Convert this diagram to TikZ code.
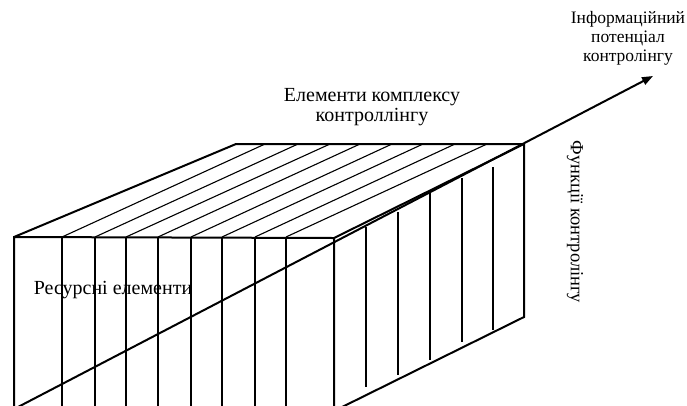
\documentclass[tikz,border=0pt]{standalone}
\usepackage{fontspec}
\setmainfont{Liberation Serif}
\usetikzlibrary{arrows.meta}

\begin{document}
\begin{tikzpicture}[x=1pt, y=-1pt,
  edge/.style={line width=2pt, line join=miter},
  hatch/.style={line width=1.1pt},
  axis/.style={line width=2pt, -{Triangle[length=11pt, width=8pt]}},
  lbl/.style={font=\fontsize{20}{20}\selectfont, align=center, inner sep=0pt}
]
  \useasboundingbox (0,0) rectangle (687,405);
  \clip (0,0) rectangle (687,405);
  \coordinate (ftl) at (14,237);
  \coordinate (ftr) at (334,238);
  \coordinate (fbl) at (14,411);
  \coordinate (fbr) at (334,411);
  \coordinate (btl) at (236,144);
  \coordinate (btr) at (524,144);
  \coordinate (bbr) at (524,317);
  \coordinate (o) at (18,407);
  \coordinate (tip) at (653,76);
  \foreach \a/\b in {62/265, 95/298, 126/330, 158/360, 191/392, 222/423, 255/455, 286/487} {
    \draw[hatch] (\a,237) -- (\a,411);
    \draw[hatch] (\a,237) -- (\b,144);
  }
  \foreach \x/\t/\b in {366/227/387, 398/212/375, 430/193/360, 462/178/342, 493/167/330}
    \draw[hatch] (\x,\t) -- (\x,\b);
  \draw[edge] (fbl) -- (ftl) -- (ftr) -- (fbr);
  \draw[edge] (ftl) -- (btl) -- (btr) -- (bbr) -- (fbr);
  \draw[edge] (ftr) -- (btr);
  \draw[axis] (o) -- (tip);
  \node[lbl] (res) at (113,290) {Ресурсні елементи};
  \node[lbl] (elem) at (372,107) {Елементи комплексу\\контроллінгу};
  \node[lbl, font=\fontsize{17.5}{19}\selectfont] (info) at (628,38) {Інформаційний\\потенціал\\контролінгу};
  \node[lbl, font=\fontsize{18.5}{19}\selectfont, rotate=-90] (func) at (575,222) {Функції контролінгу};
\end{tikzpicture}
\end{document}
